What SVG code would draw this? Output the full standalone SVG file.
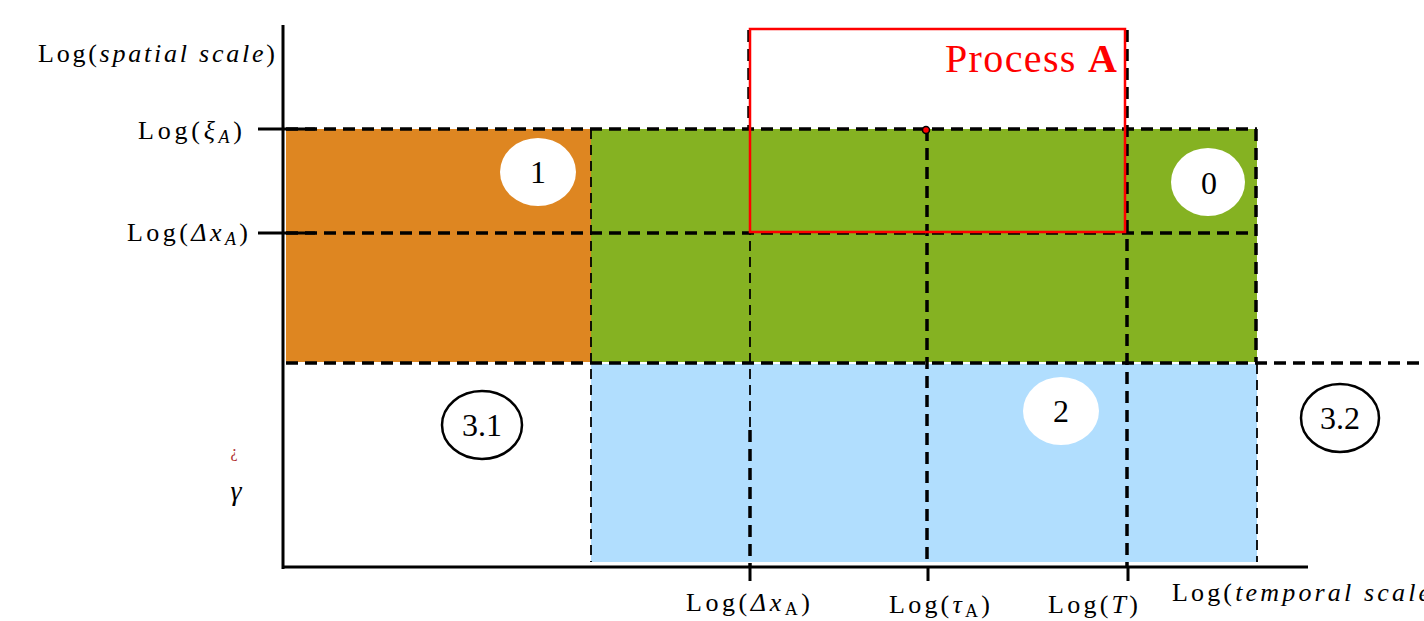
<svg xmlns="http://www.w3.org/2000/svg" width="1424" height="621" viewBox="0 0 1424 621">
<style>
.t{font-family:"Liberation Serif","Times New Roman",serif;fill:#000;}
.lab{font-size:26px;}
.num{font-size:32px;text-anchor:middle;}
.dt{fill:none;stroke:#000;stroke-width:3.5;stroke-dasharray:12,7;}
.dn{fill:none;stroke:#000;stroke-width:1.8;stroke-dasharray:10,6;}
.ax{fill:none;stroke:#000;stroke-width:3;}
</style>
<rect width="1424" height="621" fill="#fff"/>
<g id="regions">
<rect x="286" y="129" width="305" height="233" fill="#DE8621"/>
<rect x="591" y="129" width="666" height="233" fill="#85B222"/>
<rect x="591" y="364" width="666" height="198" fill="#B1DEFE"/>
</g>
<g id="connectors">
<line class="dt" x1="286" y1="129" x2="1257" y2="129"/>
<line class="dt" x1="286" y1="233" x2="1257" y2="233"/>
<line class="dt" x1="286" y1="363" x2="1424" y2="363"/>
<line class="dn" x1="591" y1="129" x2="591" y2="562"/>
<line class="dt" x1="749" y1="30" x2="749" y2="129"/>
<line class="dn" x1="750" y1="129" x2="750" y2="430"/>
<line class="dt" x1="750" y1="430" x2="750" y2="567"/>
<line class="dt" x1="927" y1="129" x2="927" y2="567"/>
<line class="dt" x1="1127" y1="30" x2="1127" y2="567"/>
<line class="dt" x1="1256" y1="129" x2="1256" y2="362"/>
<line class="dn" x1="1257" y1="364" x2="1257" y2="562"/>
<line class="ax" x1="283" y1="25" x2="283" y2="569"/>
<line class="ax" x1="282" y1="567" x2="1308" y2="567"/>
<line class="ax" x1="258" y1="129" x2="315" y2="129"/>
<line class="ax" x1="258" y1="233" x2="315" y2="233"/>
<line class="ax" x1="750" y1="567" x2="750" y2="581"/>
<line class="ax" x1="928" y1="567" x2="928" y2="581"/>
<line class="ax" x1="1128" y1="567" x2="1128" y2="581"/>
<circle cx="926" cy="130" r="3.5" fill="#f00" stroke="#000" stroke-width="1.5"/>
</g>
<g id="processA">
<rect x="750" y="29" width="375" height="203" fill="none" stroke="#f00" stroke-width="2.5"/>
<text class="t" x="945" y="72" font-size="40" textLength="172" lengthAdjust="spacing" style="fill:#f00">Process <tspan font-weight="bold">A</tspan></text>
</g>
<g id="node1">
<ellipse cx="538" cy="172" rx="38" ry="34" fill="#fff"/>
<text class="t num" x="538" y="183">1</text>
</g>
<g id="node0">
<ellipse cx="1208" cy="182" rx="37" ry="34" fill="#fff"/>
<text class="t num" x="1209" y="194">0</text>
</g>
<g id="node2">
<ellipse cx="1061" cy="411" rx="38" ry="34" fill="#fff"/>
<text class="t num" x="1061" y="422">2</text>
</g>
<g id="node31">
<ellipse cx="482" cy="425" rx="40" ry="34" fill="#fff" stroke="#000" stroke-width="2.5"/>
<text class="t num" x="482" y="436">3.1</text>
</g>
<g id="node32">
<ellipse cx="1340" cy="418" rx="39" ry="34" fill="#fff" stroke="#000" stroke-width="2.5"/>
<text class="t num" x="1340" y="429">3.2</text>
</g>
<g id="labels">
<text class="t lab" x="38" y="62" textLength="237" lengthAdjust="spacing">Log(<tspan font-style="italic">spatial scale</tspan>)</text>
<text class="t lab" x="138" y="139" textLength="104" lengthAdjust="spacing">Log(<tspan font-style="italic">ξ<tspan font-size="18" dy="4">A</tspan></tspan><tspan dy="-4">)</tspan></text>
<text class="t lab" x="127" y="241" textLength="121" lengthAdjust="spacing">Log(<tspan font-style="italic">Δx<tspan font-size="18" dy="4">A</tspan></tspan><tspan dy="-4">)</tspan></text>
<text class="t lab" x="686" y="611" textLength="124" lengthAdjust="spacing">Log(<tspan font-style="italic">Δx</tspan><tspan font-size="18" dy="4">A</tspan><tspan dy="-4">)</tspan></text>
<text class="t lab" x="889" y="613" textLength="101" lengthAdjust="spacing">Log(<tspan font-style="italic">τ</tspan><tspan font-size="18" dy="4">A</tspan><tspan dy="-4">)</tspan></text>
<text class="t lab" x="1048" y="613" textLength="90" lengthAdjust="spacing">Log(<tspan font-style="italic">T</tspan>)</text>
<text class="t lab" x="1172" y="601" textLength="270" lengthAdjust="spacing">Log(<tspan font-style="italic">temporal scale</tspan>)</text>
<text class="t" x="234" y="457" font-size="16" text-anchor="middle" style="fill:#b03030">¿</text>
<text class="t" x="236" y="500" font-size="28" font-style="italic" text-anchor="middle">γ</text>
</g>
</svg>
